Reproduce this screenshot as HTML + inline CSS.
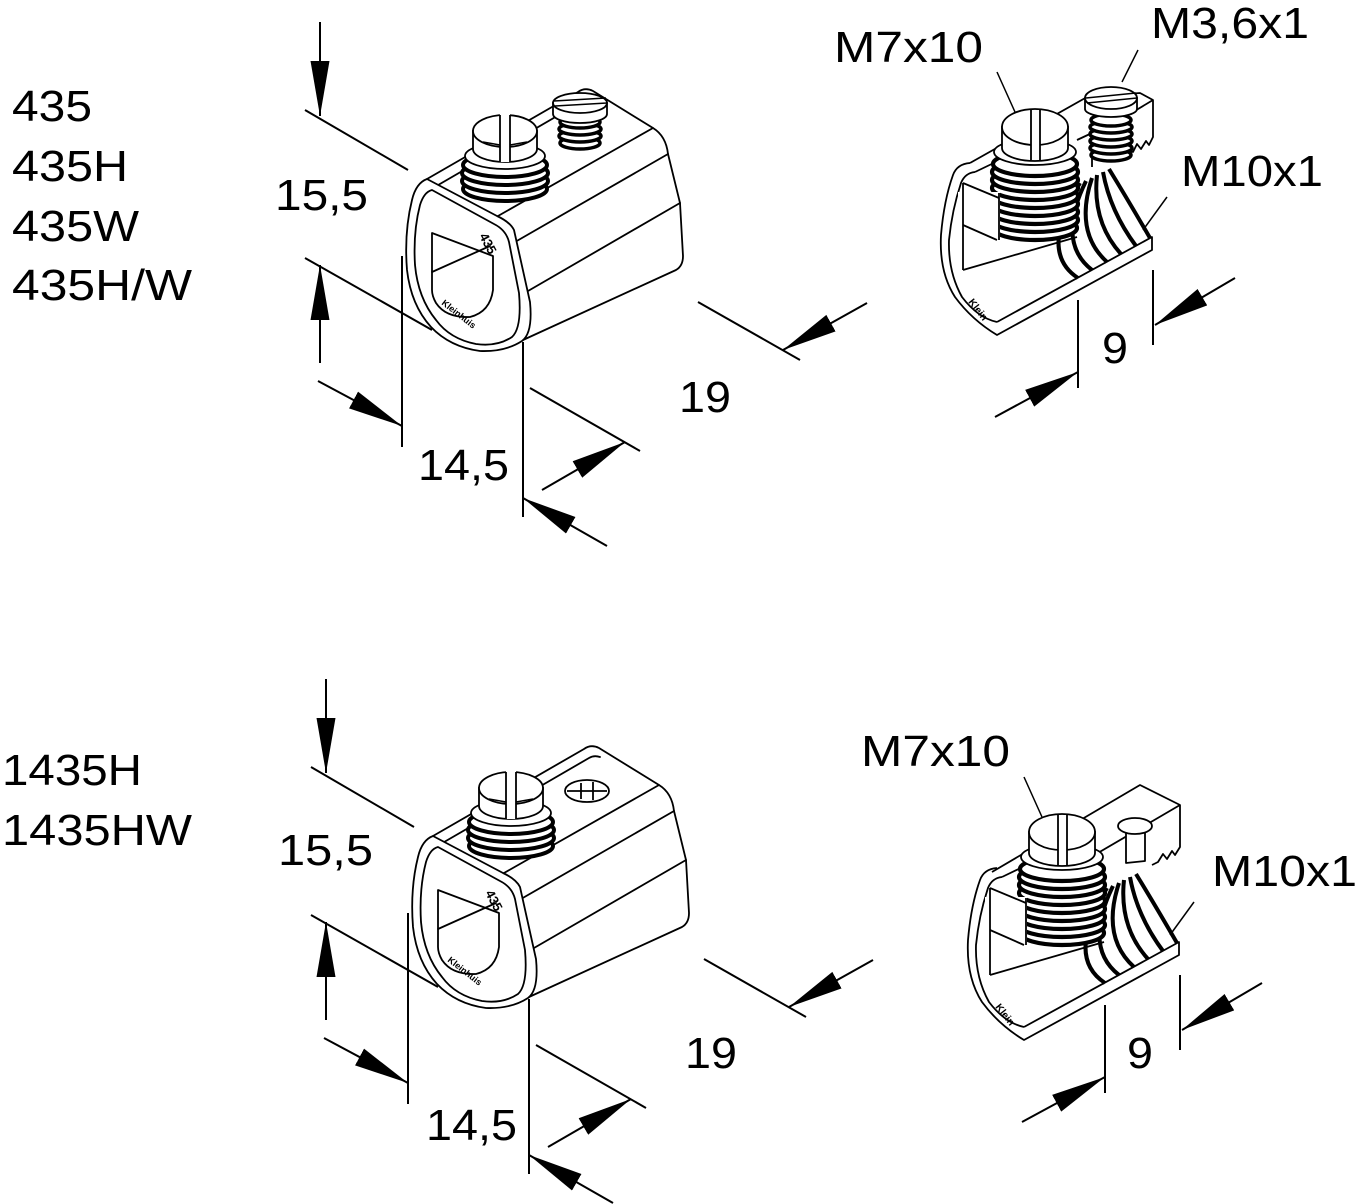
<!DOCTYPE html>
<html><head><meta charset="utf-8"><style>
html,body{margin:0;padding:0;background:#fff;}
svg{display:block;}
text{font-family:"Liberation Sans",Arial,sans-serif;fill:#000;}
</style></head><body>
<svg width="1357" height="1204" viewBox="0 0 1357 1204" xmlns="http://www.w3.org/2000/svg">
<defs>
<marker id="ar" markerWidth="58" markerHeight="22" refX="55" refY="10" orient="auto" markerUnits="userSpaceOnUse"><path d="M0,0.5 L55,10 L0,19.5 Z" fill="#000"/></marker>
</defs>
<rect width="1357" height="1204" fill="#fff"/>

<!-- ===== LEFT COMMON (top instance) ===== -->
<g id="Lc">
 <g stroke="#000" stroke-width="2" fill="none">
  <line x1="320" y1="22" x2="320" y2="116" marker-end="url(#ar)"/>
  <line x1="320" y1="363" x2="320" y2="265" marker-end="url(#ar)"/>
  <line x1="318" y1="381" x2="402" y2="426" marker-end="url(#ar)"/>
  <line x1="607" y1="546" x2="523" y2="498" marker-end="url(#ar)"/>
  <line x1="542" y1="490" x2="625" y2="442" marker-end="url(#ar)"/>
  <line x1="867" y1="303" x2="783" y2="350" marker-end="url(#ar)"/>
  <line x1="305" y1="110" x2="408" y2="170"/>
  <line x1="305" y1="258" x2="432" y2="330"/>
  <line x1="402" y1="256" x2="402" y2="447"/>
  <line x1="523" y1="342" x2="523" y2="517"/>
  <line x1="530" y1="388" x2="640" y2="451"/>
  <line x1="698" y1="302" x2="800" y2="360"/>
 </g>
 <g stroke="#000" stroke-width="1.8" fill="none" stroke-linejoin="round" stroke-linecap="round">
  <path d="M498,216 L653,128 Q666,136 668,154 L680,203 L683,256 Q683,266 676,270 L523,340"/>
  <line x1="515" y1="242" x2="668" y2="154"/>
  <line x1="528" y1="291" x2="680" y2="203"/>
  <path d="M427,179 L578,92 Q585,87 593,91 L653,128"/>
  <path d="M433,188 L583,101 Q588,98 594,100"/>
  <path d="M427,179 L497,216 Q510,222 514,230 L530,302 Q533,333 522,341 Q505,352 480,351 Q450,347 431,327 Q411,305 407,270 Q404,232 412,200 Q416,183 427,179 Z" fill="#fff"/>
  <path d="M432,190 L494,224 Q506,230 509,242 L519,293 Q522,328 512,337 Q497,347 476,344 Q450,339 436,320 Q418,298 415,265 Q413,232 420,205 Q424,192 432,190 Z"/>
  <path d="M432,233 L493,256 L493,290 Q490,312 470,317 Q446,318 436,303 Q432,296 432,290 Z"/>
  <line x1="432" y1="272" x2="490" y2="246"/>
 </g>
 <text font-size="13" font-weight="bold" transform="translate(479,236) rotate(62)">435</text>
 <text font-size="9" font-weight="bold" transform="translate(441,304) rotate(38)">Kleinhuis</text>
 <!-- big screw -->
 <g stroke="#000" fill="#fff">
  <ellipse cx="505" cy="189" rx="42" ry="12" stroke-width="4"/>
  <ellipse cx="505" cy="181" rx="43" ry="12" stroke-width="4"/>
  <ellipse cx="505" cy="173" rx="43" ry="12" stroke-width="4"/>
  <ellipse cx="505" cy="165" rx="42" ry="12" stroke-width="4"/>
  <ellipse cx="505" cy="156" rx="40" ry="13" stroke-width="1.8"/>
  <path d="M473,131 L473,149 A32,13 0 0 0 537,149 L537,131 Z" stroke-width="1.8"/>
  <ellipse cx="505" cy="131" rx="32" ry="16" stroke-width="1.8"/>
  <rect x="500" y="114" width="10" height="48" stroke="none"/>
  <line x1="500" y1="115" x2="500" y2="162" stroke-width="1.8"/>
  <line x1="510" y1="115" x2="510" y2="162" stroke-width="1.8"/>
  <line x1="483" y1="142" x2="500" y2="145" stroke-width="1.5"/>
  <line x1="510" y1="145" x2="527" y2="142" stroke-width="1.5"/>
 </g>
</g>

<!-- small screw top-left -->
<g stroke="#000" fill="#fff">
 <ellipse cx="580" cy="143" rx="20" ry="6" stroke-width="3.5"/>
 <ellipse cx="580" cy="136" rx="21" ry="6" stroke-width="3.5"/>
 <ellipse cx="580" cy="129" rx="21" ry="6" stroke-width="3.5"/>
 <ellipse cx="580" cy="122" rx="20" ry="6" stroke-width="3.5"/>
 <path d="M553,103 L553,114 A27,9 0 0 0 607,114 L607,103 Z" stroke-width="1.8"/>
 <ellipse cx="580" cy="103" rx="27" ry="10" stroke-width="1.8"/>
 <line x1="554" y1="101" x2="606" y2="98" stroke-width="1.5"/>
 <line x1="555" y1="106" x2="607" y2="103" stroke-width="1.5"/>
</g>

<!-- lower-left -->
<use href="#Lc" transform="translate(6,657)"/>
<g transform="translate(6,657)" stroke="#000" fill="#fff" stroke-width="1.8">
 <ellipse cx="581" cy="134" rx="22" ry="11"/>
 <line x1="575" y1="126" x2="575" y2="142"/>
 <line x1="587" y1="125" x2="587" y2="143"/>
 <line x1="561" y1="134" x2="601" y2="134"/>
</g>

<!-- ===== RIGHT ===== -->
<!-- top bar -->
<g stroke="#000" stroke-width="1.8" fill="none" stroke-linejoin="round">
 <path d="M970,163 L1087,97 L1140,93 L1153,100 L1153,137 L1149,145 L1146,141 L1141,149 L1137,144 L1133,152 L1128,150"/>
 <path d="M1153,100 L1133,112"/>
 <line x1="1077" y1="140" x2="1092" y2="133"/>
 <line x1="1092" y1="133" x2="1092" y2="167"/>
</g>

<g id="Rc">
 <g stroke="#000" stroke-width="2" fill="none">
  <line x1="1153" y1="270" x2="1153" y2="345"/>
  <line x1="1078" y1="300" x2="1078" y2="388"/>
  <line x1="1235" y1="278" x2="1155" y2="325" marker-end="url(#ar)"/>
  <line x1="995" y1="417" x2="1078" y2="372" marker-end="url(#ar)"/>
  <line x1="997" y1="72" x2="1015" y2="112" stroke-width="1.5"/>
  <line x1="1167" y1="197" x2="1143" y2="230" stroke-width="1.5"/>
 </g>
 <g stroke="#000" stroke-width="1.8" fill="none" stroke-linejoin="round">
  <path d="M970,163 Q957,164 953,175 Q944,200 941,235 Q939,272 955,297 Q972,320 997,335 L1152,250 L1152,237 L997,322"/>
  <path d="M975,172 Q965,173 961,183 Q952,210 949,240 Q948,272 962,297 Q978,318 997,322"/>
  <line x1="963" y1="270" x2="1077" y2="237"/>
  <line x1="975" y1="172" x2="1000" y2="160"/>
 </g>
 <!-- fins -->
 <g stroke="#000" fill="none" stroke-linecap="butt">
  <path d="M1080,183 Q1038,252 1078,278" stroke-width="4"/>
  <path d="M1086,181 Q1056,242 1092,270" stroke-width="4"/>
  <path d="M1092,178 Q1074,232 1107,262" stroke-width="4"/>
  <path d="M1097,175 Q1092,222 1121,254" stroke-width="4"/>
  <path d="M1103,172 Q1110,211 1136,246" stroke-width="4"/>
  <path d="M1109,169 Q1128,200 1150,238" stroke-width="4"/>
 </g>
 <!-- big screw -->
 <g stroke="#000" fill="#fff">
  <ellipse cx="1035" cy="228" rx="42" ry="12" stroke-width="4.2"/>
  <ellipse cx="1035" cy="220" rx="43" ry="12" stroke-width="4.2"/>
  <ellipse cx="1035" cy="212" rx="43" ry="12" stroke-width="4.2"/>
  <ellipse cx="1035" cy="204" rx="43" ry="12" stroke-width="4.2"/>
  <ellipse cx="1035" cy="196" rx="43" ry="12" stroke-width="4.2"/>
  <ellipse cx="1035" cy="188" rx="43" ry="12" stroke-width="4.2"/>
  <ellipse cx="1035" cy="180" rx="43" ry="12" stroke-width="4.2"/>
  <ellipse cx="1035" cy="172" rx="43" ry="12" stroke-width="4.2"/>
  <ellipse cx="1035" cy="164" rx="42" ry="12" stroke-width="4.2"/>
  <ellipse cx="1035" cy="152" rx="41" ry="13" stroke-width="1.8"/>
  <path d="M1002,127 L1002,148 A33,13 0 0 0 1068,148 L1068,127 Z" stroke-width="1.8"/>
  <ellipse cx="1035" cy="127" rx="33" ry="18" stroke-width="1.8"/>
  <rect x="1031" y="110" width="9" height="50" stroke="none"/>
  <line x1="1031" y1="110" x2="1031" y2="160" stroke-width="1.8"/>
  <line x1="1040" y1="110" x2="1040" y2="160" stroke-width="1.8"/>
 </g>
 <rect x="958" y="192" width="42" height="52" fill="#fff"/>
 <g stroke="#000" stroke-width="1.8" fill="none">
  <line x1="963" y1="183" x2="963" y2="270"/>
  <line x1="963" y1="225" x2="997" y2="240"/>
  <line x1="999" y1="193" x2="999" y2="240"/>
  <line x1="963" y1="183" x2="999" y2="198"/>
 </g>
 <text font-size="10" font-weight="bold" transform="translate(968,302) rotate(52)">Klein</text>
</g>

<!-- small screw top-right -->
<g stroke="#000" fill="#fff">
 <ellipse cx="1111" cy="155" rx="20" ry="6" stroke-width="3.5"/>
 <ellipse cx="1111" cy="148" rx="21" ry="6" stroke-width="3.5"/>
 <ellipse cx="1111" cy="141" rx="21" ry="6" stroke-width="3.5"/>
 <ellipse cx="1111" cy="134" rx="21" ry="6" stroke-width="3.5"/>
 <ellipse cx="1111" cy="127" rx="21" ry="6" stroke-width="3.5"/>
 <ellipse cx="1111" cy="120" rx="20" ry="6" stroke-width="3.5"/>
 <path d="M1085,98 L1085,109 A26,8 0 0 0 1137,109 L1137,98 Z" stroke-width="1.8"/>
 <ellipse cx="1111" cy="98" rx="26" ry="11" stroke-width="1.8"/>
 <line x1="1086" y1="98" x2="1136" y2="93" stroke-width="1.5"/>
 <line x1="1087" y1="103" x2="1137" y2="98" stroke-width="1.5"/>
</g>
<line x1="1138" y1="50" x2="1122" y2="82" stroke="#000" stroke-width="1.5"/>

<!-- lower-right -->
<g transform="translate(27,705)">
 <g stroke="#000" stroke-width="1.8" fill="none" stroke-linejoin="round">
  <path d="M965,167 L1113,80 L1153,100 L1153,142 L1148,150 L1145,146 L1140,154 L1136,149 L1131,157 L1125,160"/>
  <path d="M1153,100 L1064,152"/>
  <path d="M1099,122 L1099,158 L1118,156 L1118,122" fill="#fff"/>
  <ellipse cx="1108" cy="121" rx="17" ry="8" fill="#fff"/>
 </g>
</g>
<use href="#Rc" transform="translate(27,705)"/>

<!-- ===== TEXT ===== -->
<g font-size="44">
 <text x="12" y="121" textLength="80" lengthAdjust="spacingAndGlyphs">435</text>
 <text x="12" y="181" textLength="116" lengthAdjust="spacingAndGlyphs">435H</text>
 <text x="12" y="241" textLength="127" lengthAdjust="spacingAndGlyphs">435W</text>
 <text x="12" y="300" textLength="180" lengthAdjust="spacingAndGlyphs">435H/W</text>
 <text x="2" y="785" textLength="140" lengthAdjust="spacingAndGlyphs">1435H</text>
 <text x="2" y="845" textLength="190" lengthAdjust="spacingAndGlyphs">1435HW</text>

 <text x="275" y="210" textLength="93" lengthAdjust="spacingAndGlyphs">15,5</text>
 <text x="418" y="480" textLength="91" lengthAdjust="spacingAndGlyphs">14,5</text>
 <text x="679" y="412" textLength="52" lengthAdjust="spacingAndGlyphs">19</text>
 <text x="834" y="62" textLength="149" lengthAdjust="spacingAndGlyphs">M7x10</text>
 <text x="1151" y="38" textLength="158" lengthAdjust="spacingAndGlyphs">M3,6x1</text>
 <text x="1181" y="186" textLength="142" lengthAdjust="spacingAndGlyphs">M10x1</text>
 <text x="1102" y="363" textLength="26" lengthAdjust="spacingAndGlyphs">9</text>

 <text x="278" y="865" textLength="95" lengthAdjust="spacingAndGlyphs">15,5</text>
 <text x="426" y="1140" textLength="91" lengthAdjust="spacingAndGlyphs">14,5</text>
 <text x="685" y="1068" textLength="52" lengthAdjust="spacingAndGlyphs">19</text>
 <text x="861" y="766" textLength="149" lengthAdjust="spacingAndGlyphs">M7x10</text>
 <text x="1212" y="886" textLength="145" lengthAdjust="spacingAndGlyphs">M10x1</text>
 <text x="1127" y="1068" textLength="26" lengthAdjust="spacingAndGlyphs">9</text>
</g>
</svg>
</body></html>
